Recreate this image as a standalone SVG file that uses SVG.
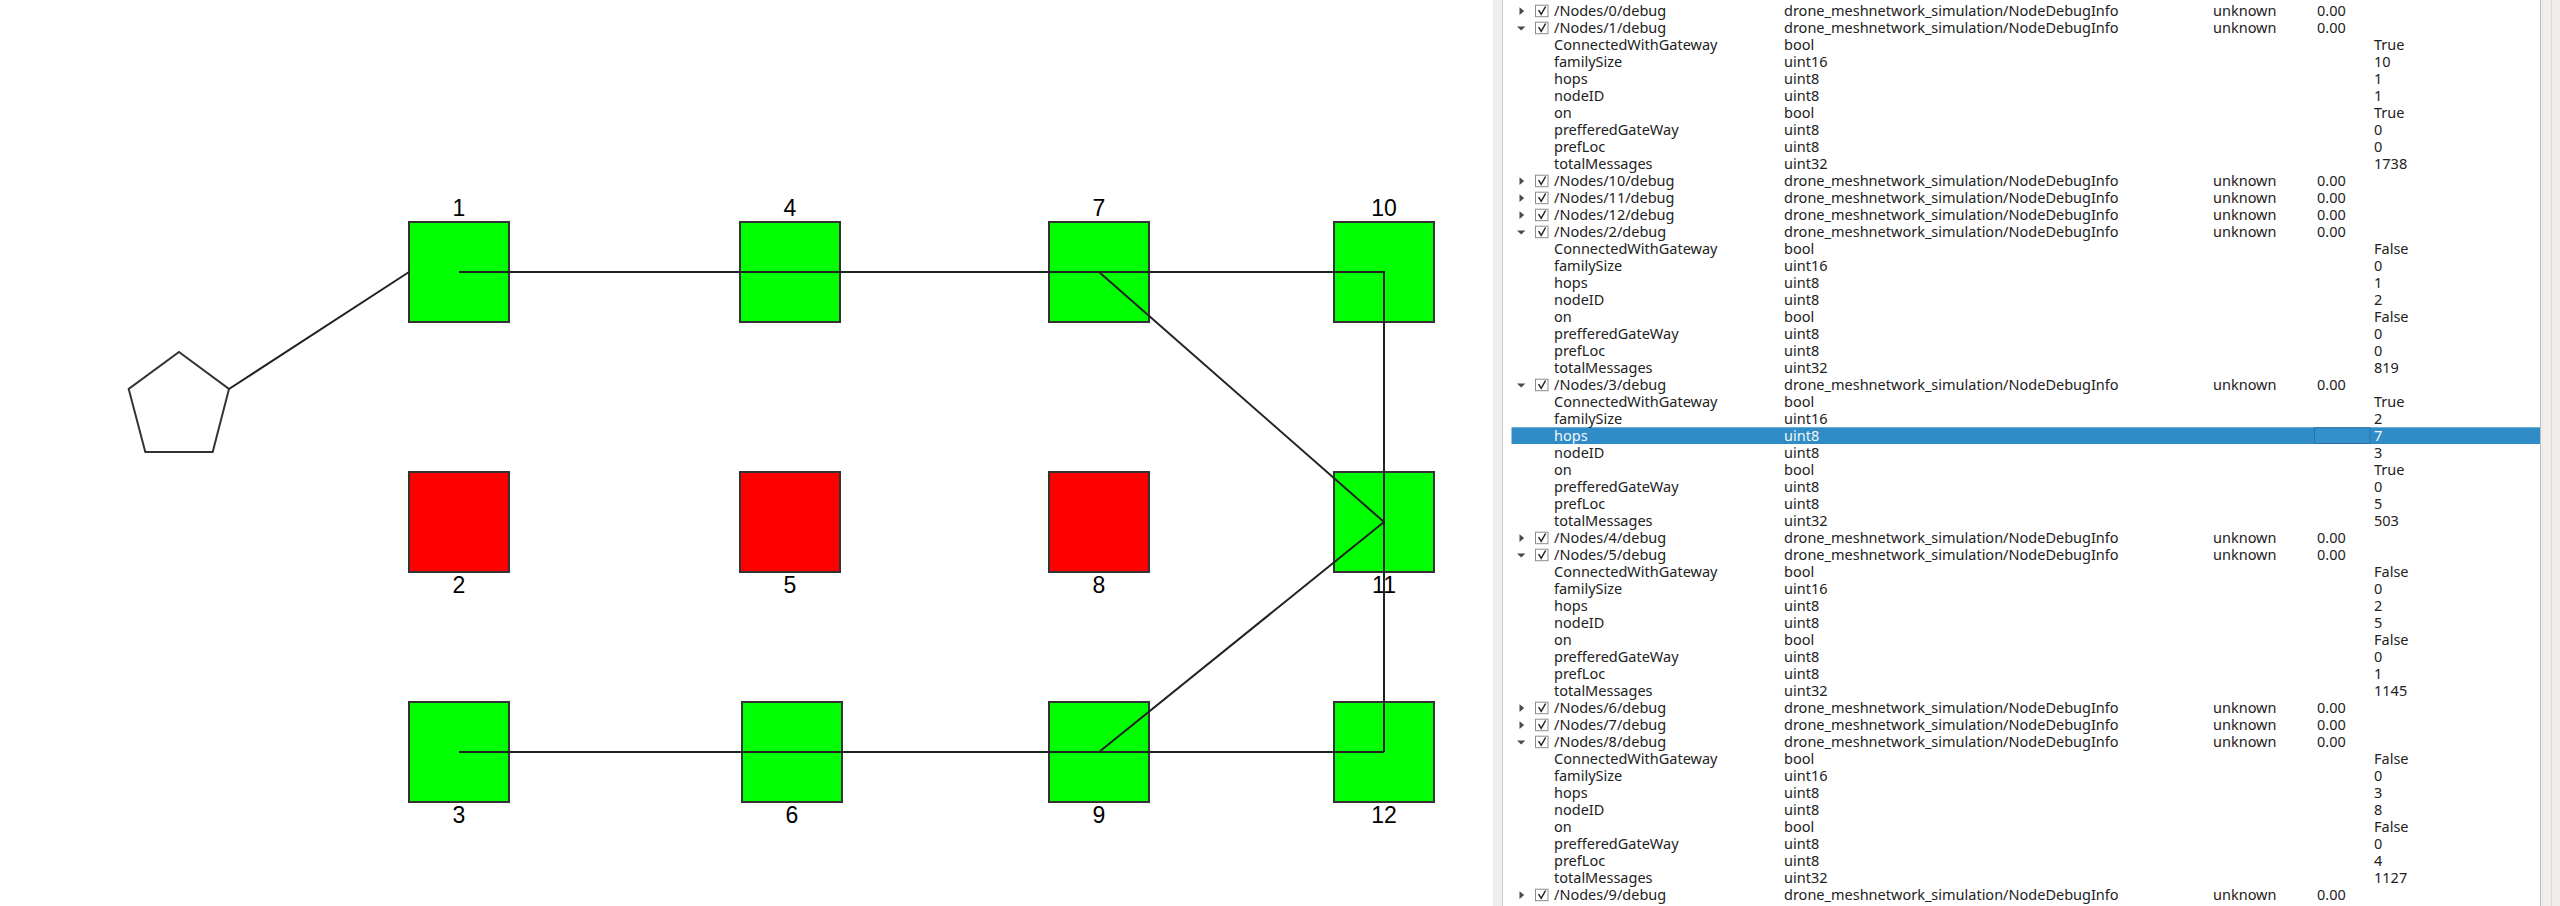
<svg xmlns="http://www.w3.org/2000/svg" width="2560" height="906" viewBox="0 0 2560 906">
<style>
.on{fill:#00ff00;stroke:#333;stroke-width:2}
.off{fill:#ff0000;stroke:#333;stroke-width:2}
.lbl{font-family:"Liberation Sans",Arial,sans-serif;font-size:23px;text-anchor:middle;fill:#000}
.e{stroke:#222;stroke-width:2;fill:none;stroke-linecap:butt}
.t{font-family:"Noto Sans","DejaVu Sans",sans-serif;font-size:14.5px;fill:#222}
.w{fill:#f4f6fa}
</style>
<defs>
<g id="col"><polygon points="1519.5,-8.5 1519.5,-0.8 1524.2,-4.6" fill="#4a4a4a"/></g>
<g id="exp"><polygon points="1517,-6.2 1525.4,-6.2 1521.2,-2.2" fill="#4a4a4a"/></g>
<g id="chk"><rect x="1535.5" y="-10.5" width="12.5" height="11.5" fill="#fff" stroke="#8c8c8c" stroke-width="1"/><polyline points="1538.6,-5.6 1541.2,-1.4 1545.6,-9.2" fill="none" stroke="#222" stroke-width="1.5"/></g>
</defs>
<rect width="2560" height="906" fill="#fff"/>
<g id="panel">
<rect x="1493" y="0" width="9" height="906" fill="#efeeed"/>
<line x1="1502.5" y1="0" x2="1502.5" y2="906" stroke="#cfcdcb"/>
<rect x="2540" y="0" width="20" height="906" fill="#efeeed"/>
<line x1="2540.5" y1="0" x2="2540.5" y2="906" stroke="#bdbbb9"/>
<line x1="2551.5" y1="0" x2="2551.5" y2="906" stroke="#dcdad8"/>
<rect x="1511.5" y="427.3" width="1028.5" height="16.7" fill="#308cc6"/>
<rect x="2314.5" y="427.8" width="55.5" height="15.7" fill="#3390cb" stroke="#2773a6" stroke-width="1"/>
<g id="icons">
<use href="#col" y="15.7"/><use href="#chk" y="15.7"/>
<use href="#exp" y="32.7"/><use href="#chk" y="32.7"/>
<use href="#col" y="185.7"/><use href="#chk" y="185.7"/>
<use href="#col" y="202.7"/><use href="#chk" y="202.7"/>
<use href="#col" y="219.7"/><use href="#chk" y="219.7"/>
<use href="#exp" y="236.7"/><use href="#chk" y="236.7"/>
<use href="#exp" y="389.7"/><use href="#chk" y="389.7"/>
<use href="#col" y="542.7"/><use href="#chk" y="542.7"/>
<use href="#exp" y="559.7"/><use href="#chk" y="559.7"/>
<use href="#col" y="712.7"/><use href="#chk" y="712.7"/>
<use href="#col" y="729.7"/><use href="#chk" y="729.7"/>
<use href="#exp" y="746.7"/><use href="#chk" y="746.7"/>
<use href="#col" y="899.7"/><use href="#chk" y="899.7"/>
</g>
<g class="t">
<text x="1554" y="15.7">/Nodes/0/debug</text><text x="1784" y="15.7">drone_meshnetwork_simulation/NodeDebugInfo</text><text x="2213" y="15.7">unknown</text><text x="2317" y="15.7">0.00</text>
<text x="1554" y="32.7">/Nodes/1/debug</text><text x="1784" y="32.7">drone_meshnetwork_simulation/NodeDebugInfo</text><text x="2213" y="32.7">unknown</text><text x="2317" y="32.7">0.00</text>
<text x="1554" y="49.7">ConnectedWithGateway</text><text x="1784" y="49.7">bool</text><text x="2374" y="49.7">True</text>
<text x="1554" y="66.7">familySize</text><text x="1784" y="66.7">uint16</text><text x="2374" y="66.7">10</text>
<text x="1554" y="83.7">hops</text><text x="1784" y="83.7">uint8</text><text x="2374" y="83.7">1</text>
<text x="1554" y="100.7">nodeID</text><text x="1784" y="100.7">uint8</text><text x="2374" y="100.7">1</text>
<text x="1554" y="117.7">on</text><text x="1784" y="117.7">bool</text><text x="2374" y="117.7">True</text>
<text x="1554" y="134.7">prefferedGateWay</text><text x="1784" y="134.7">uint8</text><text x="2374" y="134.7">0</text>
<text x="1554" y="151.7">prefLoc</text><text x="1784" y="151.7">uint8</text><text x="2374" y="151.7">0</text>
<text x="1554" y="168.7">totalMessages</text><text x="1784" y="168.7">uint32</text><text x="2374" y="168.7">1738</text>
<text x="1554" y="185.7">/Nodes/10/debug</text><text x="1784" y="185.7">drone_meshnetwork_simulation/NodeDebugInfo</text><text x="2213" y="185.7">unknown</text><text x="2317" y="185.7">0.00</text>
<text x="1554" y="202.7">/Nodes/11/debug</text><text x="1784" y="202.7">drone_meshnetwork_simulation/NodeDebugInfo</text><text x="2213" y="202.7">unknown</text><text x="2317" y="202.7">0.00</text>
<text x="1554" y="219.7">/Nodes/12/debug</text><text x="1784" y="219.7">drone_meshnetwork_simulation/NodeDebugInfo</text><text x="2213" y="219.7">unknown</text><text x="2317" y="219.7">0.00</text>
<text x="1554" y="236.7">/Nodes/2/debug</text><text x="1784" y="236.7">drone_meshnetwork_simulation/NodeDebugInfo</text><text x="2213" y="236.7">unknown</text><text x="2317" y="236.7">0.00</text>
<text x="1554" y="253.7">ConnectedWithGateway</text><text x="1784" y="253.7">bool</text><text x="2374" y="253.7">False</text>
<text x="1554" y="270.7">familySize</text><text x="1784" y="270.7">uint16</text><text x="2374" y="270.7">0</text>
<text x="1554" y="287.7">hops</text><text x="1784" y="287.7">uint8</text><text x="2374" y="287.7">1</text>
<text x="1554" y="304.7">nodeID</text><text x="1784" y="304.7">uint8</text><text x="2374" y="304.7">2</text>
<text x="1554" y="321.7">on</text><text x="1784" y="321.7">bool</text><text x="2374" y="321.7">False</text>
<text x="1554" y="338.7">prefferedGateWay</text><text x="1784" y="338.7">uint8</text><text x="2374" y="338.7">0</text>
<text x="1554" y="355.7">prefLoc</text><text x="1784" y="355.7">uint8</text><text x="2374" y="355.7">0</text>
<text x="1554" y="372.7">totalMessages</text><text x="1784" y="372.7">uint32</text><text x="2374" y="372.7">819</text>
<text x="1554" y="389.7">/Nodes/3/debug</text><text x="1784" y="389.7">drone_meshnetwork_simulation/NodeDebugInfo</text><text x="2213" y="389.7">unknown</text><text x="2317" y="389.7">0.00</text>
<text x="1554" y="406.7">ConnectedWithGateway</text><text x="1784" y="406.7">bool</text><text x="2374" y="406.7">True</text>
<text x="1554" y="423.7">familySize</text><text x="1784" y="423.7">uint16</text><text x="2374" y="423.7">2</text>
<text x="1554" y="440.7" class="w">hops</text><text x="1784" y="440.7" class="w">uint8</text><text x="2374" y="440.7" class="w">7</text>
<text x="1554" y="457.7">nodeID</text><text x="1784" y="457.7">uint8</text><text x="2374" y="457.7">3</text>
<text x="1554" y="474.7">on</text><text x="1784" y="474.7">bool</text><text x="2374" y="474.7">True</text>
<text x="1554" y="491.7">prefferedGateWay</text><text x="1784" y="491.7">uint8</text><text x="2374" y="491.7">0</text>
<text x="1554" y="508.7">prefLoc</text><text x="1784" y="508.7">uint8</text><text x="2374" y="508.7">5</text>
<text x="1554" y="525.7">totalMessages</text><text x="1784" y="525.7">uint32</text><text x="2374" y="525.7">503</text>
<text x="1554" y="542.7">/Nodes/4/debug</text><text x="1784" y="542.7">drone_meshnetwork_simulation/NodeDebugInfo</text><text x="2213" y="542.7">unknown</text><text x="2317" y="542.7">0.00</text>
<text x="1554" y="559.7">/Nodes/5/debug</text><text x="1784" y="559.7">drone_meshnetwork_simulation/NodeDebugInfo</text><text x="2213" y="559.7">unknown</text><text x="2317" y="559.7">0.00</text>
<text x="1554" y="576.7">ConnectedWithGateway</text><text x="1784" y="576.7">bool</text><text x="2374" y="576.7">False</text>
<text x="1554" y="593.7">familySize</text><text x="1784" y="593.7">uint16</text><text x="2374" y="593.7">0</text>
<text x="1554" y="610.7">hops</text><text x="1784" y="610.7">uint8</text><text x="2374" y="610.7">2</text>
<text x="1554" y="627.7">nodeID</text><text x="1784" y="627.7">uint8</text><text x="2374" y="627.7">5</text>
<text x="1554" y="644.7">on</text><text x="1784" y="644.7">bool</text><text x="2374" y="644.7">False</text>
<text x="1554" y="661.7">prefferedGateWay</text><text x="1784" y="661.7">uint8</text><text x="2374" y="661.7">0</text>
<text x="1554" y="678.7">prefLoc</text><text x="1784" y="678.7">uint8</text><text x="2374" y="678.7">1</text>
<text x="1554" y="695.7">totalMessages</text><text x="1784" y="695.7">uint32</text><text x="2374" y="695.7">1145</text>
<text x="1554" y="712.7">/Nodes/6/debug</text><text x="1784" y="712.7">drone_meshnetwork_simulation/NodeDebugInfo</text><text x="2213" y="712.7">unknown</text><text x="2317" y="712.7">0.00</text>
<text x="1554" y="729.7">/Nodes/7/debug</text><text x="1784" y="729.7">drone_meshnetwork_simulation/NodeDebugInfo</text><text x="2213" y="729.7">unknown</text><text x="2317" y="729.7">0.00</text>
<text x="1554" y="746.7">/Nodes/8/debug</text><text x="1784" y="746.7">drone_meshnetwork_simulation/NodeDebugInfo</text><text x="2213" y="746.7">unknown</text><text x="2317" y="746.7">0.00</text>
<text x="1554" y="763.7">ConnectedWithGateway</text><text x="1784" y="763.7">bool</text><text x="2374" y="763.7">False</text>
<text x="1554" y="780.7">familySize</text><text x="1784" y="780.7">uint16</text><text x="2374" y="780.7">0</text>
<text x="1554" y="797.7">hops</text><text x="1784" y="797.7">uint8</text><text x="2374" y="797.7">3</text>
<text x="1554" y="814.7">nodeID</text><text x="1784" y="814.7">uint8</text><text x="2374" y="814.7">8</text>
<text x="1554" y="831.7">on</text><text x="1784" y="831.7">bool</text><text x="2374" y="831.7">False</text>
<text x="1554" y="848.7">prefferedGateWay</text><text x="1784" y="848.7">uint8</text><text x="2374" y="848.7">0</text>
<text x="1554" y="865.7">prefLoc</text><text x="1784" y="865.7">uint8</text><text x="2374" y="865.7">4</text>
<text x="1554" y="882.7">totalMessages</text><text x="1784" y="882.7">uint32</text><text x="2374" y="882.7">1127</text>
<text x="1554" y="899.7">/Nodes/9/debug</text><text x="1784" y="899.7">drone_meshnetwork_simulation/NodeDebugInfo</text><text x="2213" y="899.7">unknown</text><text x="2317" y="899.7">0.00</text>
</g>
</g>
<g id="gateway"><polygon points="179,352 229,389 212.7,452 145.3,452 128.7,389" fill="#fff" stroke="#333" stroke-width="2"/></g>
<g id="node1"><rect class="on" x="409" y="222" width="100" height="100"/><text class="lbl" x="459" y="216">1</text></g>
<g id="node2"><rect class="off" x="409" y="472" width="100" height="100"/><text class="lbl" x="459" y="593">2</text></g>
<g id="node3"><rect class="on" x="409" y="702" width="100" height="100"/><text class="lbl" x="459" y="823">3</text></g>
<g id="node4"><rect class="on" x="740" y="222" width="100" height="100"/><text class="lbl" x="790" y="216">4</text></g>
<g id="node5"><rect class="off" x="740" y="472" width="100" height="100"/><text class="lbl" x="790" y="593">5</text></g>
<g id="node6"><rect class="on" x="742" y="702" width="100" height="100"/><text class="lbl" x="792" y="823">6</text></g>
<g id="node7"><rect class="on" x="1049" y="222" width="100" height="100"/><text class="lbl" x="1099" y="216">7</text></g>
<g id="node8"><rect class="off" x="1049" y="472" width="100" height="100"/><text class="lbl" x="1099" y="593">8</text></g>
<g id="node9"><rect class="on" x="1049" y="702" width="100" height="100"/><text class="lbl" x="1099" y="823">9</text></g>
<g id="node10"><rect class="on" x="1334" y="222" width="100" height="100"/><text class="lbl" x="1384" y="216">10</text></g>
<g id="node11"><rect class="on" x="1334" y="472" width="100" height="100"/><text class="lbl" x="1384" y="593">11</text></g>
<g id="node12"><rect class="on" x="1334" y="702" width="100" height="100"/><text class="lbl" x="1384" y="823">12</text></g>
<g id="connectors">
<line class="e" x1="229" y1="389" x2="409" y2="272"/>
<polyline class="e" points="459,272 1384,272 1384,752"/>
<polyline class="e" points="459,752 1384,752"/>
<line class="e" x1="1099" y1="272" x2="1384" y2="522"/>
<line class="e" x1="1099" y1="752" x2="1384" y2="522"/>
</g>
</svg>
